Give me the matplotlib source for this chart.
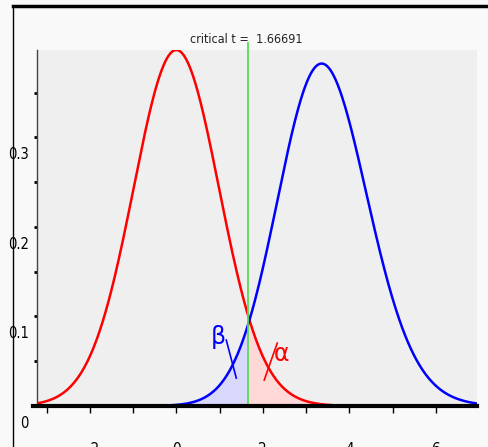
import math

import matplotlib
matplotlib.use("Agg")
import matplotlib.pyplot as plt
from matplotlib import font_manager
from matplotlib.lines import Line2D
from matplotlib.transforms import ScaledTranslation
import numpy as np

# Test parameters
df = 70
ncp = 3.394
critical_t = 1.66691

x_range = [-3.22, 6.95]
y_max = 0.3975
x_ticks = [-2, 0, 2, 4, 6]
x_minor = [-3, -1, 1, 3, 5]
y_ticks = [0, 0.1, 0.2, 0.3]
y_tick_labels = ["0", "0.1", "0.2", "0.3"]
y_minor = [0.05, 0.15, 0.25, 0.35]

beta_label = ("\u03b2", 0.97, 0.077)
alpha_label = ("\u03b1", 2.42, 0.058)
beta_stroke = ([1.155, 1.386], [0.0736, 0.0312])
alpha_stroke = ([2.333, 2.032], [0.0702, 0.029])


def pick_font():
    # narrow face if one is installed, else a narrowish sans
    available = {(f.name, f.stretch) for f in font_manager.fontManager.ttflist}
    names = {n for n, _ in available}
    if "Liberation Sans Narrow" in names:
        return dict(family="Liberation Sans Narrow")
    if any(n == "DejaVu Sans" and s in ("condensed", 75, "semi-condensed", 87.5)
           for n, s in available):
        return dict(family="DejaVu Sans", stretch="condensed")
    return dict(family="Roboto")


def phi(z):
    return np.exp(-0.5 * z * z) / math.sqrt(2 * math.pi)


def nct_pdf(t, nu, delta):
    # integrate over the chi-square variable
    v = np.linspace(1e-3, 250, 5000)
    logf = (nu / 2 - 1) * np.log(v) - v / 2 - (nu / 2) * math.log(2) - math.lgamma(nu / 2)
    s = np.sqrt(v / nu)
    integrand = np.exp(logf)[None, :] * s[None, :] * phi(t[:, None] * s[None, :] - delta)
    return np.trapezoid(integrand, v, axis=1)


def main():
    font = pick_font()

    fig = plt.figure(figsize=(4.88, 4.47), dpi=100, facecolor="#f9f9f9")
    ax = fig.add_axes([37 / 488, 1 - 406 / 447, 440 / 488, 356 / 447])
    ax.set_facecolor("#efefef")

    # outer frame lines
    fig.add_artist(Line2D([13 / 488, 1], [1 - 6 / 447, 1 - 6 / 447], color="black", lw=2.5))
    fig.add_artist(Line2D([13 / 488, 13 / 488], [0, 1 - 6 / 447], color="black", lw=1))

    t = np.linspace(x_range[0], x_range[1], 600)
    h0 = nct_pdf(t, df, 0.0)
    h1 = nct_pdf(t, df, ncp)

    ax.fill_between(t, 0, h1, where=t <= critical_t, color="#d8d8fa", lw=0)
    ax.fill_between(t, 0, h0, where=t >= critical_t, color="#ffd8d8", lw=0)
    ax.plot(t, h0, color="red", lw=1.8, zorder=3)
    ax.plot(t, h1, color="blue", lw=1.8, zorder=3)

    ax.plot([critical_t, critical_t], [0, 1.02 * y_max], color="#55dd55", lw=1.3,
            clip_on=False, zorder=4)
    ax.text(critical_t - 0.06, 1.02 * y_max, f"critical t =  {critical_t}", ha="center",
            va="baseline", fontsize=9, color="#222222", **font)

    ax.text(*beta_label[1:], beta_label[0], color="blue", fontsize=17, ha="center", va="center")
    ax.text(*alpha_label[1:], alpha_label[0], color="red", fontsize=17, ha="center", va="center")
    ax.plot(*beta_stroke, color="blue", lw=1.2)
    ax.plot(*alpha_stroke, color="red", lw=1.2)

    ax.set_xlim(x_range)
    ax.set_ylim(0, y_max)

    for side in ["top", "right"]:
        ax.spines[side].set_visible(False)
    ax.spines["left"].set_color("#444444")
    ax.spines["left"].set_linewidth(1)
    ax.spines["bottom"].set_visible(False)
    ax.axhline(0, xmin=-0.01, color="black", lw=3, clip_on=False, zorder=5)

    ax.set_xticks(x_ticks)
    ax.set_xticks(x_minor, minor=True)
    ax.set_yticks(y_ticks)
    ax.set_yticklabels(y_tick_labels)
    ax.set_yticks(y_minor, minor=True)
    ax.tick_params(axis="x", which="both", direction="out", length=5, width=1, pad=21,
                   labelsize=11, colors="black")
    ax.tick_params(axis="y", which="both", direction="out", length=2, width=2, pad=4,
                   labelsize=10.5)
    for lab in ax.get_xticklabels() + ax.get_yticklabels():
        lab.set_family(font["family"])
        if "stretch" in font:
            lab.set_stretch(font["stretch"])
    offset = ScaledTranslation(0, -16 / 100, fig.dpi_scale_trans)
    for lab in ax.get_yticklabels():
        lab.set_transform(lab.get_transform() + offset)

    fig.savefig("out.png", dpi=100, facecolor=fig.get_facecolor())


if __name__ == "__main__":
    main()
